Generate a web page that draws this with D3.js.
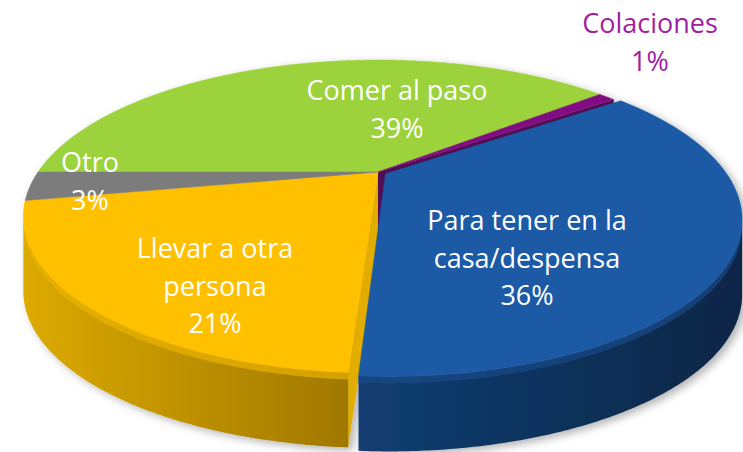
<!DOCTYPE html>
<html>
<head>
<meta charset="utf-8">
<script src="https://cdn.jsdelivr.net/npm/d3@7"></script>
<style>
  body { margin: 0; background: #fff; }
  svg { display: block; }
</style>
</head>
<body>
<div id="chart"></div>
<script>
// data
const categories = ["Comer al paso", "Colaciones", "Para tener en la casa/despensa", "Llevar a otra persona", "Otro"];
const values = [39, 1, 36, 21, 3];
const labelLines = [["Comer al paso"], ["Colaciones"], ["Para tener en la", "casa/despensa"], ["Llevar a otra", "persona"], ["Otro"]];

// styles
const topColors = ["#9cd23a", "#820a82", "#1b5aa6", "#ffc000", "#7c7c7c"];
const sideLeft = ["#86b52c", "#6e0a6e", "#123e72", "#dcaa00", "#6a6a6a"];
const sideRight = ["#5f8a1a", "#4d064d", "#0b2646", "#a07800", "#4a4a4a"];
const cutColors = ["#6f9a1e", "#520852", "#0e3260", "#e2ad00", "#555555"];
const labelColors = ["#fff", "#a01ea0", "#fff", "#fff", "#fff"];
const explode = [0, 0, 0.025, 0, 0];
const labelPos = [[397, 100], [650, 33], [527, 230], [215, 258], [90, 172]];

const width = 743, height = 452;

// perspective camera looking down on the disk
const cx = 378, cy = 172, F = 1083.2, D = 3.186;
const s = 0.4231, c = Math.sqrt(1 - s * s);
const T = 75;          // thickness of the side, in px
const bevel = 7;

function project(u, v) {
    const zc = D - v * c;
    return [cx + F * u / zc, cy + F * v * s / zc];
}

const svg = d3.select("#chart")
    .append("svg")
    .attr("width", width)
    .attr("height", height);

const defs = svg.append("defs");
defs.append("filter")
    .attr("id", "shadow")
    .attr("x", "-10%").attr("y", "-10%")
    .attr("width", "120%").attr("height", "130%")
    .append("feDropShadow")
    .attr("dx", 4).attr("dy", 3)
    .attr("stdDeviation", 4)
    .attr("flood-color", "#000")
    .attr("flood-opacity", 0.3);

const pie = d3.pie()
    .sort(null)
    .startAngle(-90 * Math.PI / 180)
    .endAngle(270 * Math.PI / 180);
const arcs = pie(values);

const line = d3.line().curve(d3.curveLinearClosed);
const down = p => [p[0], p[1] + T];

const walls = [];
const tops = [];

arcs.forEach((a, i) => {
    const p0 = a.startAngle - Math.PI / 2, p1 = a.endAngle - Math.PI / 2;
    const mid = (p0 + p1) / 2;
    const ox = explode[i] * Math.cos(mid), oy = explode[i] * Math.sin(mid);
    const P = (r, phi) => project(ox + r * Math.cos(phi), oy + r * Math.sin(phi));
    const depth = (r, phi) => D - (oy + r * Math.sin(phi)) * c;

    // rim points
    const m = Math.max(2, Math.ceil((p1 - p0) / (Math.PI / 360)));
    const rim = d3.range(m + 1).map(k => p0 + (p1 - p0) * k / m);
    const rimPts = rim.map(phi => P(1, phi));

    // outer wall: runs of rim where it moves left on screen (faces the viewer)
    let run = [];
    const runs = [];
    for (let k = 0; k < m; k++) {
        if (rimPts[k + 1][0] < rimPts[k][0]) {
            if (!run.length) run.push(k);
            run.push(k + 1);
        } else if (run.length) { runs.push(run); run = []; }
    }
    if (run.length) runs.push(run);

    runs.forEach((r, j) => {
        const pts = r.map(k => rimPts[k]);
        const xs = pts.map(p => p[0]);
        const gid = "side" + i + "_" + j;
        const grad = defs.append("linearGradient")
            .attr("id", gid)
            .attr("gradientUnits", "userSpaceOnUse")
            .attr("x1", d3.min(xs)).attr("x2", d3.max(xs))
            .attr("y1", 0).attr("y2", 0);
        grad.append("stop").attr("offset", 0).attr("stop-color", sideLeft[i]);
        grad.append("stop").attr("offset", 1).attr("stop-color", sideRight[i]);
        const zMid = depth(1, rim[r[Math.floor(r.length / 2)]]);
        walls.push({ d: line(pts.concat(pts.map(down).reverse())), fill: "url(#" + gid + ")", z: zMid });
        const bandPts = pts.map(p => [p[0], p[1] + bevel]);
        walls.push({
            d: line(pts.concat(bandPts.reverse())),
            fill: d3.interpolateRgb(sideLeft[i], topColors[i])(0.4),
            opacity: 0.7,
            z: zMid - 1e-4
        });
    });

    // cut faces only where a slice is pulled out
    const prev = (i - 1 + values.length) % values.length, next = (i + 1) % values.length;
    [[p0, prev, p0 - 0.2], [p1, next, p1 + 0.2]].forEach(([phi, nb, outPhi]) => {
        if (!explode[i] && !explode[nb]) return;
        const C = P(0, phi), R = P(1, phi), E = P(0.5, outPhi);
        let nx = -(R[1] - C[1]), ny = R[0] - C[0];
        if (nx * (E[0] - C[0]) + ny * (E[1] - C[1]) < 0) { nx = -nx; ny = -ny; }
        if (ny <= 0) return;
        walls.push({ d: line([C, R, down(R), down(C)]), fill: cutColors[i], z: depth(0.5, phi) });
    });

    // top face
    tops.push({ d: line([P(0, 0)].concat(rimPts)), fill: topColors[i] });
});

walls.sort((a, b) => b.z - a.z);

const g = svg.append("g").attr("filter", "url(#shadow)");

g.selectAll(".wall")
    .data(walls)
    .enter().append("path")
    .attr("class", "wall")
    .attr("d", d => d.d)
    .attr("fill", d => d.fill)
    .attr("fill-opacity", d => d.opacity || 1);

g.selectAll(".top")
    .data(tops)
    .enter().append("path")
    .attr("class", "top")
    .attr("d", d => d.d)
    .attr("fill", d => d.fill)
    .attr("stroke", d => d.fill)
    .attr("stroke-width", 0.5);

// labels
const lineH = 37.5;
categories.forEach((cat, i) => {
    const lines = labelLines[i].concat([values[i] + "%"]);
    const t = svg.append("text")
        .attr("text-anchor", "middle")
        .style("font-family", "'Open Sans', 'Noto Sans', sans-serif")
        .style("font-size", "27px")
        .attr("fill", labelColors[i]);
    lines.forEach((ln, j) => {
        t.append("tspan")
            .attr("x", labelPos[i][0])
            .attr("y", labelPos[i][1] + j * lineH)
            .text(ln);
    });
});
</script>
</body>
</html>
